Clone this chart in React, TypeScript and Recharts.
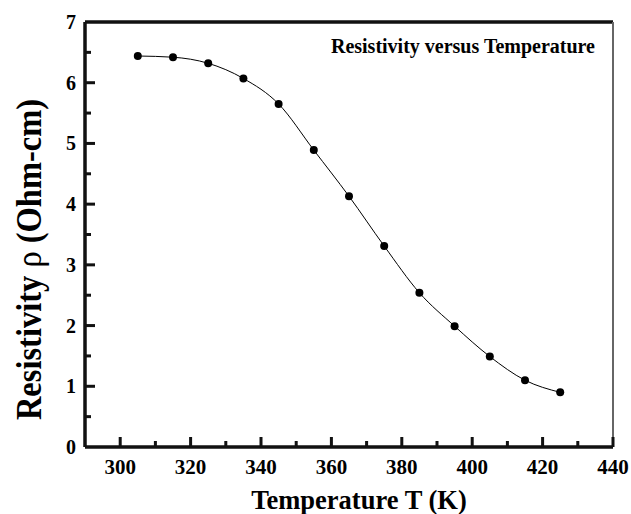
import { LineChart, Line, XAxis, YAxis, ReferenceLine } from "recharts";

const temps = [305, 315, 325, 335, 345, 355, 365, 375, 385, 395, 405, 415, 425];
const resistivity = [6.44, 6.42, 6.32, 6.07, 5.65, 4.89, 4.13, 3.31, 2.54, 1.99, 1.49, 1.10, 0.90];
const xTicks = [290, 300, 310, 320, 330, 340, 350, 360, 370, 380, 390, 400, 410, 420, 430, 440];
const yTicks = [0, 0.5, 1, 1.5, 2, 2.5, 3, 3.5, 4, 4.5, 5, 5.5, 6, 6.5, 7];

const data = temps.map((t, i) => ({ t, rho: resistivity[i] }));

const FONT = "'Liberation Serif', 'Times New Roman', serif";
const INK = "#111111";

// inward ticks: major every 20 K / 1 Ohm-cm, minor in between
function XTick(props: any) {
  const x = Number(props.x);
  const y = Number(props.y);
  const v = props.payload.value;
  const major = v % 20 === 0;
  const len = major ? 10 : 6;
  return (
    <g>
      {v !== 290 && <rect x={x - 1.5} y={y - len} width={3} height={len} fill={INK} />}
      {major && (
        <text x={x} y={y + 27} textAnchor="middle" fontFamily={FONT} fontWeight="bold" fontSize={21} fill="#000">
          {v}
        </text>
      )}
    </g>
  );
}

function YTick(props: any) {
  const x = Number(props.x);
  const y = Number(props.y);
  const v = props.payload.value;
  const major = Number.isInteger(v);
  const len = major ? 10 : 6;
  return (
    <g>
      {v !== 0 && v !== 7 && <rect x={x} y={y - 1.5} width={len} height={3} fill={INK} />}
      {major && (
        <text x={x - 9} y={y + 7} textAnchor="end" fontFamily={FONT} fontWeight="bold" fontSize={20} fill="#000">
          {v}
        </text>
      )}
    </g>
  );
}

export default function App() {
  return (
    <div style={{ position: "absolute", left: 0, top: 0, width: 631, height: 514, background: "#fff" }}>
      <LineChart width={631} height={514} data={data} margin={{ top: 22, right: 18, left: 25, bottom: 27 }}>
        <XAxis
          dataKey="t"
          type="number"
          domain={[290, 440]}
          ticks={xTicks}
          interval={0}
          height={40}
          tickSize={0.001}
          tickMargin={0}
          tickLine={false}
          stroke={INK}
          axisLine={{ stroke: INK, strokeWidth: 3.5 }}
          tick={<XTick />}
        />
        <YAxis
          type="number"
          domain={[0, 7]}
          ticks={yTicks}
          interval={0}
          width={60}
          tickSize={0.001}
          tickMargin={0}
          tickLine={false}
          stroke={INK}
          axisLine={{ stroke: INK, strokeWidth: 3.5 }}
          tick={<YTick />}
        />
        <ReferenceLine y={7} stroke={INK} strokeWidth={3.5} />
        <ReferenceLine x={440} stroke="#666" strokeWidth={2} />
        <Line
          dataKey="rho"
          type="monotone"
          stroke="#000"
          strokeWidth={1}
          dot={{ r: 4, fill: "#000", stroke: "#000", strokeWidth: 0 }}
          isAnimationActive={false}
        />
      </LineChart>
      <svg width={631} height={514} style={{ position: "absolute", left: 0, top: 0, pointerEvents: "none" }}>
        <text x={595} y={53} textAnchor="end" fontFamily={FONT} fontWeight="bold" fontSize={20} fill="#000">
          Resistivity versus Temperature
        </text>
        <text x={359} y={509} textAnchor="middle" fontFamily={FONT} fontWeight="bold" fontSize={26.5} fill="#000">
          Temperature T (K)
        </text>
        <text
          x={0}
          y={0}
          transform="translate(41, 259.5) rotate(-90) scale(1, 1.1)"
          textAnchor="middle"
          fontFamily={FONT}
          fontWeight="bold"
          fontSize={32.5}
          fill="#000"
        >
          Resistivity <tspan fontWeight="normal">ρ</tspan> (Ohm-cm)
        </text>
      </svg>
    </div>
  );
}
